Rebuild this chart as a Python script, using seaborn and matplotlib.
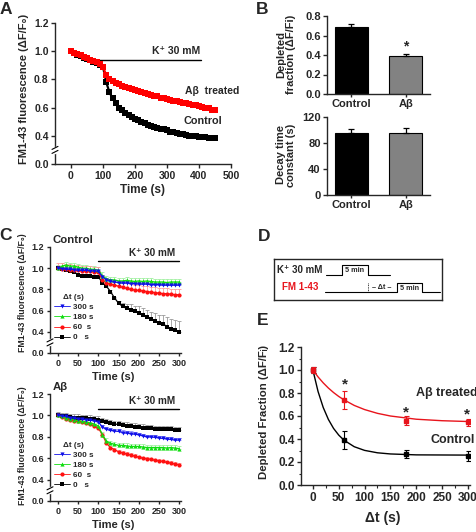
import numpy as np
import pandas as pd
import matplotlib
matplotlib.use("Agg")
import matplotlib.pyplot as plt
import seaborn as sns
from matplotlib.lines import Line2D
from matplotlib.ticker import FormatStrFormatter, MultipleLocator, NullLocator

sns.set_style("ticks")
plt.rcParams['font.family'] = ['Liberation Sans', 'DejaVu Sans']
plt.rcParams['font.weight'] = 'bold'
plt.rcParams['axes.labelweight'] = 'bold'
plt.rcParams['axes.linewidth'] = 1.0
plt.rcParams['xtick.major.size'] = 3
plt.rcParams['ytick.major.size'] = 3
plt.rcParams['xtick.major.width'] = 1
plt.rcParams['ytick.major.width'] = 1
plt.rcParams['xtick.major.pad'] = 2
plt.rcParams['ytick.major.pad'] = 1.5

# ---- panel A: K+ destaining, 0-450 s ----
tA = np.arange(0, 451, 10)
ab_A = [1.00, 0.99, 0.98, 0.97, 0.96, 0.95, 0.94, 0.93, 0.92, 0.91,
        0.89, 0.83, 0.80, 0.79, 0.775, 0.765, 0.755, 0.745, 0.74, 0.73,
        0.725, 0.72, 0.71, 0.705, 0.70, 0.69, 0.685, 0.68, 0.67, 0.665,
        0.66, 0.655, 0.65, 0.645, 0.64, 0.635, 0.63, 0.625, 0.62, 0.615,
        0.61, 0.605, 0.60, 0.595, 0.585, 0.58]
ctrl_A = [1.00, 0.99, 0.975, 0.965, 0.955, 0.945, 0.935, 0.925, 0.915, 0.905,
          0.89, 0.78, 0.71, 0.665, 0.63, 0.60, 0.58, 0.56, 0.545, 0.53,
          0.52, 0.51, 0.50, 0.49, 0.48, 0.47, 0.465, 0.455, 0.45, 0.445,
          0.44, 0.43, 0.425, 0.42, 0.415, 0.41, 0.405, 0.40, 0.40, 0.395,
          0.39, 0.385, 0.38, 0.375, 0.37, 0.37]
ab_A_err = 0.012
ctrl_A_err = 0.012
stim_A = (82, 405)

# ---- panel B ----
groups = ["Control", "A\u03b2"]
frac_vals = [0.69, 0.39]
frac_err = [0.03, 0.025]
tau_vals = [95, 96]
tau_err = [7, 7.5]

# ---- panel C: 0-300 s, 4 delays ----
tC = np.arange(0, 301, 10)
delays = ["300 s", "180 s", "60  s", "0   s"]
ctrl_300 = [1.0, 0.995, 0.99, 0.99, 0.985, 0.98, 0.98, 0.98, 0.975, 0.975, 0.97,
            0.92, 0.89, 0.875, 0.87, 0.865, 0.86, 0.86, 0.855, 0.855, 0.85,
            0.85, 0.85, 0.845, 0.845, 0.845, 0.84, 0.84, 0.84, 0.84, 0.84]
ctrl_180 = [1.0, 1.02, 1.03, 1.02, 1.02, 1.01, 1.0, 1.0, 0.99, 0.99, 0.98,
            0.93, 0.90, 0.89, 0.89, 0.88, 0.88, 0.885, 0.88, 0.875, 0.88,
            0.875, 0.88, 0.875, 0.87, 0.87, 0.87, 0.865, 0.87, 0.87, 0.87]
ctrl_60 = [1.0, 0.995, 0.99, 0.985, 0.98, 0.98, 0.975, 0.97, 0.97, 0.965, 0.96,
           0.89, 0.86, 0.85, 0.84, 0.83, 0.82, 0.81, 0.80, 0.795, 0.79,
           0.785, 0.78, 0.775, 0.77, 0.765, 0.76, 0.76, 0.755, 0.75, 0.75]
ctrl_0 = [1.0, 0.99, 0.98, 0.97, 0.96, 0.94, 0.93, 0.93, 0.925, 0.92, 0.92,
          0.86, 0.83, 0.78, 0.72, 0.67, 0.64, 0.62, 0.61, 0.595, 0.58,
          0.56, 0.54, 0.52, 0.50, 0.48, 0.47, 0.45, 0.43, 0.42, 0.40]
ctrl_0_err = [0.01, 0.01, 0.01, 0.01, 0.01, 0.01, 0.01, 0.01, 0.01, 0.01, 0.01,
              0.01, 0.01, 0.01, 0.01, 0.02, 0.03, 0.04, 0.05, 0.05, 0.06,
              0.06, 0.07, 0.07, 0.08, 0.08, 0.09, 0.09, 0.09, 0.09, 0.10]
ctrl_errs = [0.015, 0.03, 0.05, ctrl_0_err]

ab_300 = [1.0, 0.995, 0.99, 0.98, 0.975, 0.97, 0.965, 0.96, 0.955, 0.95, 0.94,
          0.89, 0.87, 0.86, 0.855, 0.85, 0.84, 0.835, 0.83, 0.825, 0.82,
          0.81, 0.80, 0.80, 0.795, 0.79, 0.785, 0.78, 0.775, 0.77, 0.77]
ab_180 = [1.0, 0.99, 0.98, 0.97, 0.96, 0.95, 0.945, 0.94, 0.93, 0.92, 0.90,
          0.82, 0.76, 0.74, 0.73, 0.72, 0.72, 0.715, 0.71, 0.71, 0.71,
          0.705, 0.70, 0.70, 0.70, 0.70, 0.70, 0.695, 0.70, 0.695, 0.69]
ab_60 = [1.0, 0.985, 0.97, 0.96, 0.95, 0.945, 0.935, 0.925, 0.915, 0.90, 0.88,
         0.82, 0.74, 0.70, 0.68, 0.66, 0.65, 0.64, 0.63, 0.62, 0.61,
         0.60, 0.595, 0.59, 0.58, 0.575, 0.57, 0.56, 0.555, 0.545, 0.54]
ab_0 = [1.0, 0.995, 0.99, 0.985, 0.98, 0.98, 0.975, 0.975, 0.97, 0.965, 0.96,
        0.95, 0.94, 0.93, 0.92, 0.915, 0.91, 0.905, 0.90, 0.895, 0.89,
        0.885, 0.88, 0.88, 0.875, 0.875, 0.87, 0.87, 0.87, 0.865, 0.86]
ab_errs = [0.02, 0.025, 0.015, 0.03]
stim_C = (100, 300)

# ---- panel E ----
dt = [0, 60, 180, 300]
ctrl_E = [1.0, 0.39, 0.27, 0.25]
ctrl_E_err = [0.03, 0.08, 0.035, 0.045]
ab_E = [1.0, 0.74, 0.56, 0.545]
ab_E_err = [0.03, 0.08, 0.04, 0.03]
fit_t = [0, 10, 20, 30, 40, 50, 60, 80, 100, 125, 150, 200, 250, 300]
fit_ctrl = [1.0, 0.813, 0.674, 0.570, 0.492, 0.434, 0.390, 0.333, 0.301,
            0.280, 0.270, 0.262, 0.261, 0.260]
fit_ab = [1.0, 0.940, 0.888, 0.843, 0.804, 0.770, 0.741, 0.692, 0.656,
          0.623, 0.600, 0.572, 0.559, 0.552]
stars_E = [(62, 0.87), (181, 0.63), (299, 0.615)]

colors_C = ['#1010e8', '#10dd10', '#ff1010', 'black']
ecolors_C = ['#8c8cff', '#a0f0a0', '#ff9c9c', '#9a9a9a']
markers_C = ['v', '^', 'o', 's']

W, H = 477, 532
fig = plt.figure(figsize=(W / 100, H / 100), dpi=100)


def rect(l, t, r, b):
    return [l / W, 1 - b / H, (r - l) / W, (b - t) / H]


def brk_fwd(y):
    y = np.asarray(y, float)
    return np.where(y >= 0.4, y, 0.2 + 0.5 * y)


def brk_inv(y):
    y = np.asarray(y, float)
    return np.where(y >= 0.4, y, (y - 0.2) / 0.5)


def break_marks(ax, l, t, r, b, yfrac=0.1):
    wpx, hpx = r - l, b - t
    g = 2.0 / hpx
    kw = dict(transform=ax.transAxes, clip_on=False, zorder=6)
    ax.plot([0, 0], [yfrac - g, yfrac + g], color='white', lw=2.5, **kw)
    for yy in (yfrac - g, yfrac + g):
        ax.plot([-3 / wpx, 3 / wpx], [yy - 1.5 / hpx, yy + 1.5 / hpx],
                color='black', lw=0.8, **kw)


def ftext(x, y, s, **kw):
    fig.text(x / W, 1 - y / H, s, **kw)


# ================= A =================
rA = (55, 23, 231, 164)
axA = fig.add_axes(rect(*rA))
axA.set_yscale('function', functions=(brk_fwd, brk_inv))
for vals, err, col, ecol in [(ctrl_A, ctrl_A_err, 'black', '#b0b0b0'),
                             (ab_A, ab_A_err, '#ff0000', '#ff9a9a')]:
    axA.errorbar(tA, vals, yerr=[np.zeros(len(vals)), np.full(len(vals), err)],
                 fmt='none', ecolor=ecol, elinewidth=0.6, capsize=1, zorder=2)
    sns.lineplot(x=tA, y=vals, ax=axA, color=col, marker='s', markersize=4,
                 markeredgewidth=0, linewidth=1.6, zorder=3)
axA.plot(stim_A, [0.936, 0.936], color='black', lw=1)
axA.text(330, 1.0, "K\u207a 30 mM", ha='center', va='center', fontsize=7.5)
axA.text(440, 0.72, "A\u03b2  treated", ha='center', va='center', fontsize=7.5)
axA.text(412, 0.505, "Control", ha='center', va='center', fontsize=7.8)
axA.set_xlim(-50, 500)
axA.set_ylim(0, 1.2)
axA.set_xticks([0, 100, 200, 300, 400, 500])
axA.set_yticks([0, 0.4, 0.6, 0.8, 1.0, 1.2])
axA.yaxis.set_minor_locator(NullLocator())
axA.yaxis.set_major_formatter(FormatStrFormatter('%.1f'))
axA.tick_params(labelsize=7.5)
axA.set_xlabel('')
axA.set_ylabel('')
sns.despine(ax=axA)
break_marks(axA, *rA)
ftext(24.5, 89, "FM1-43 fluorescence (\u0394F/F\u2080)", rotation=90,
      ha='center', va='center', fontsize=8)
ftext(142, 190, "Time (s)", ha='center', va='center', fontsize=8.5)

# ================= B =================
for (l, t, r, b), vals, errs, ticks, ylab, ypos in [
        ((327, 16, 430, 94), frac_vals, frac_err, [0, 0.2, 0.4, 0.6, 0.8],
         "Depleted\nfraction (\u0394F/Fi)", 54),
        ((327, 117, 430, 195), tau_vals, tau_err, [0, 40, 80, 120],
         "Decay time\nconstant (s)", 155)]:
    ax = fig.add_axes(rect(l, t, r, b))
    sns.barplot(x=groups, y=vals, hue=groups, palette=['black', '#828282'],
                legend=False, ax=ax, width=0.62, edgecolor='black',
                linewidth=0.8, errorbar=None)
    ax.errorbar([0, 1], vals, yerr=[[0, 0], errs], fmt='none', ecolor='black',
                elinewidth=0.9, capsize=2, capthick=0.9, zorder=5)
    ax.set_xlim(-0.45, 1.45)
    ax.set_ylim(0, ticks[-1])
    ax.set_yticks(ticks)
    if ticks[-1] < 1:
        ax.yaxis.set_major_formatter(FormatStrFormatter('%.1f'))
        ax.text(1, 0.49, "*", ha='center', va='center', fontsize=10)
    ax.tick_params(labelsize=8)
    ax.tick_params(axis='x', length=2, pad=1.5)
    ax.set_xlabel('')
    ax.set_ylabel('')
    sns.despine(ax=ax)
    ftext(286, ypos, ylab, rotation=90, ha='center', va='center',
          fontsize=8, linespacing=1.05, multialignment='center')

# ================= C =================
for (l, t, r, b), series, errs, title, stim_y, ylab_y, xlab_y, leg_y in [
        ((50, 247, 181, 353), [ctrl_300, ctrl_180, ctrl_60, ctrl_0], ctrl_errs,
         "Control", 1.067, 293, 377, 0.555),
        ((50, 394, 181, 501), [ab_300, ab_180, ab_60, ab_0], ab_errs,
         "A\u03b2", 1.06, 446, 525, 0.555)]:
    ax = fig.add_axes(rect(l, t, r, b))
    ax.set_yscale('function', functions=(brk_fwd, brk_inv))
    order = [3, 2, 1, 0]
    for i in order:
        vals = series[i]
        err = errs[i]
        up = np.asarray(err, float) * np.ones(len(vals))
        ax.errorbar(tC, vals, yerr=[np.zeros(len(vals)), up], fmt='none',
                    ecolor=ecolors_C[i], elinewidth=0.6, capsize=1.2,
                    capthick=0.6, zorder=2 + i * 0.1)
        sns.lineplot(x=tC, y=vals, ax=ax, color=colors_C[i], marker=markers_C[i],
                     markersize=3, markeredgewidth=0, linewidth=0.9,
                     zorder=3 + (3 - i) * 0.1)
    ax.plot(stim_C, [stim_y, stim_y], color='black', lw=1)
    ax.text(233, stim_y + 0.075, "K\u207a 30 mM", ha='center', va='center',
            fontsize=7.2)
    ax.text(-14, 1.22, title, ha='left', va='bottom', fontsize=8.2)
    ax.set_xlim(-20, 305)
    ax.set_ylim(0, 1.2)
    ax.set_xticks([0, 50, 100, 150, 200, 250, 300])
    ax.set_yticks([0, 0.4, 0.6, 0.8, 1.0, 1.2])
    ax.yaxis.set_minor_locator(NullLocator())
    ax.yaxis.set_major_formatter(FormatStrFormatter('%.1f'))
    ax.tick_params(labelsize=6.5, length=2.5)
    ax.set_xlabel('')
    ax.set_ylabel('')
    sns.despine(ax=ax)
    break_marks(ax, l, t, r, b)
    handles = [Line2D([0], [0], color=colors_C[i], lw=0.6, marker=markers_C[i],
                      markersize=3, markeredgewidth=0) for i in range(4)]
    leg = ax.legend(handles, delays, title="\u0394t (s)", loc='upper left',
                    bbox_to_anchor=(0.03, leg_y), frameon=False, fontsize=5.8,
                    title_fontsize=5.8, handlelength=2.0, labelspacing=0.3,
                    handletextpad=0.4, borderpad=0, borderaxespad=0)
    for txt in leg.get_texts():
        txt.set_fontweight('bold')
    leg.get_title().set_fontweight('bold')
    ftext(23, ylab_y, "FM1-43 fluorescence (\u0394F/F\u2080)", rotation=90,
          ha='center', va='center', fontsize=6.3)
    ftext(113, xlab_y, "Time (s)", ha='center', va='center', fontsize=8)

# ================= D =================
axD = fig.add_axes(rect(274, 259, 442, 300))
axD.set_xlim(274, 442)
axD.set_ylim(300, 259)
axD.set_xticks([])
axD.set_yticks([])
for sp in axD.spines.values():
    sp.set_linewidth(1)
axD.text(277, 270, "K\u207a 30 mM", ha='left', va='center', fontsize=7)
axD.text(282, 286.5, "FM 1-43", ha='left', va='center', fontsize=7,
         color='#e8141c')
axD.plot([326, 342, 342, 368, 368, 390], [275, 275, 265, 265, 275, 275],
         color='black', lw=0.8)
axD.text(355, 270.5, "5 min", ha='center', va='center', fontsize=5.2)
axD.plot([325, 397, 397, 422, 422, 440], [292, 292, 283, 283, 292, 292],
         color='black', lw=0.8)
axD.plot([368, 368], [283, 292], color='black', lw=0.6, ls=(0, (1, 1)))
axD.text(382, 287.5, "\u2013 \u0394t \u2013", ha='center', va='center', fontsize=5.2)
axD.text(409.5, 288, "5 min", ha='center', va='center', fontsize=5.2)

# ================= E =================
axE = fig.add_axes(rect(301, 347, 470, 485))
sns.lineplot(x=fit_t, y=fit_ctrl, ax=axE, color='black', linewidth=1)
sns.lineplot(x=fit_t, y=fit_ab, ax=axE, color='#e8141c', linewidth=1)
axE.errorbar(dt, ctrl_E, yerr=ctrl_E_err, fmt='s', color='black', ms=3.5,
             elinewidth=0.8, capsize=1.8, capthick=0.8, zorder=4)
axE.errorbar(dt, ab_E, yerr=ab_E_err, fmt='s', color='#e8141c', ms=3.5,
             elinewidth=0.8, capsize=1.8, capthick=0.8, zorder=5)
for x, y in stars_E:
    axE.text(x, y, "*", ha='center', va='center', fontsize=11)
axE.text(259, 0.80, "A\u03b2 treated", ha='center', va='center', fontsize=9)
axE.text(271, 0.39, "Control", ha='center', va='center', fontsize=9)
axE.set_xlim(-23, 304)
axE.set_ylim(0, 1.2)
axE.set_xticks([0, 50, 100, 150, 200, 250, 300])
axE.set_yticks([0, 0.2, 0.4, 0.6, 0.8, 1.0, 1.2])
axE.xaxis.set_minor_locator(MultipleLocator(25))
axE.yaxis.set_minor_locator(MultipleLocator(0.1))
axE.yaxis.set_major_formatter(FormatStrFormatter('%.1f'))
axE.tick_params(labelsize=8.5)
axE.tick_params(which='minor', length=1.8, width=0.8)
axE.set_xlabel('')
axE.set_ylabel('')
sns.despine(ax=axE)
ftext(264, 412, "Depleted Fraction (\u0394F/F\u1d62)", rotation=90,
      ha='center', va='center', fontsize=8.2)
ftext(383, 518, "\u0394t (s)", ha='center', va='center', fontsize=10)

# panel letters
for letter, x, y in [("A", 6, 14), ("B", 262.5, 14), ("C", 5, 240),
                     ("D", 264, 241), ("E", 263, 325)]:
    ftext(x, y, letter, ha='center', va='baseline', fontsize=12.5)

fig.savefig("out.png", dpi=100)
